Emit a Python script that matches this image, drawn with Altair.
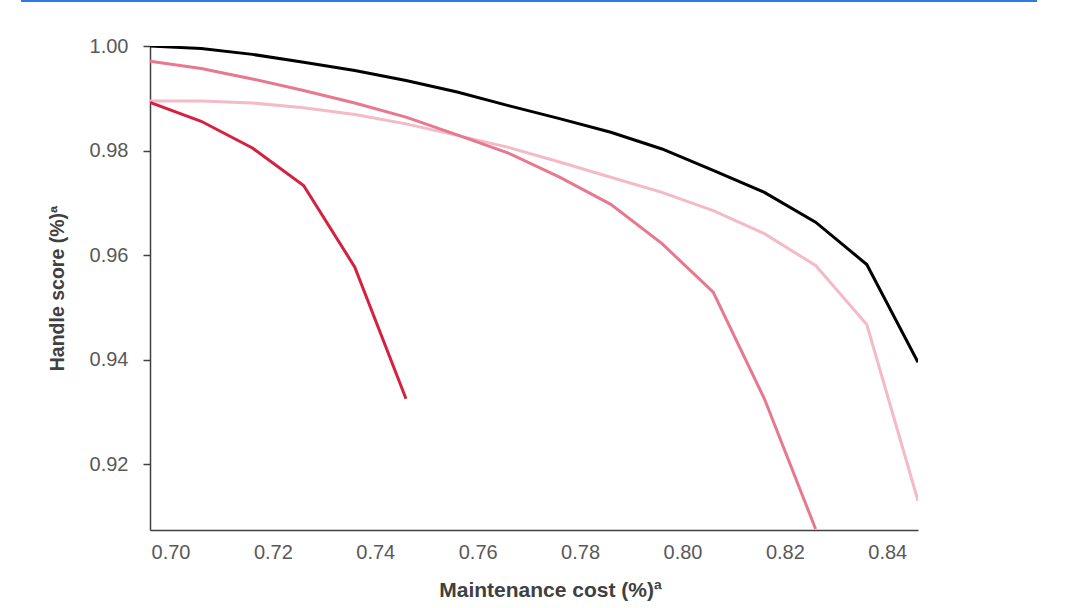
import altair as alt
import pandas as pd

# Maintenance cost (x) sample points
cost = [0.696, 0.706, 0.716, 0.726, 0.736, 0.746, 0.756, 0.766,
        0.776, 0.786, 0.796, 0.806, 0.816, 0.826, 0.836, 0.846]

# Handle score series
black = [1.0000, 0.9995, 0.9984, 0.9969, 0.9953, 0.9934, 0.9912, 0.9886,
         0.9861, 0.9835, 0.9803, 0.9762, 0.9720, 0.9663, 0.9582, 0.9395]
light = [0.9895, 0.9895, 0.9891, 0.9882, 0.9869, 0.9851, 0.9829, 0.9806,
         0.9778, 0.9749, 0.9720, 0.9685, 0.9641, 0.9580, 0.9467, 0.9130]
mid = [0.9971, 0.9957, 0.9937, 0.9915, 0.9891, 0.9864, 0.9830, 0.9795,
       0.9749, 0.9697, 0.9622, 0.9529, 0.9325, 0.9076]
red = [0.9892, 0.9856, 0.9805, 0.9733, 0.9577, 0.9325]

series_names = ["s1", "s2", "s3", "s4"]
series_colors = ["#000000", "#f3bac8", "#e7788f", "#d5213f"]

x_ticks = [0.70, 0.72, 0.74, 0.76, 0.78, 0.80, 0.82, 0.84]
y_ticks = [0.92, 0.94, 0.96, 0.98, 1.00]

rows = []
for name, vals in zip(series_names, [black, light, mid, red]):
    for c, v in zip(cost, vals):
        rows.append({"series": name, "cost": c, "score": v})
df = pd.DataFrame(rows)

FONT = "Liberation Sans"

lines = alt.Chart(df).mark_line(strokeWidth=3, clip=True).encode(
    x=alt.X("cost:Q",
            scale=alt.Scale(domain=[0.696, 0.846], nice=False, zero=False),
            axis=alt.Axis(values=x_ticks, format=".2f", ticks=False, grid=False,
                          labelPadding=12, titlePadding=17, titleFontSize=21,
                          titleX=400,
                          title="Maintenance cost (%)ª")),
    y=alt.Y("score:Q",
            scale=alt.Scale(domain=[0.9074, 1.0], nice=False, zero=False),
            axis=alt.Axis(values=y_ticks, format=".2f", ticks=True, tickSize=7,
                          grid=False, labelPadding=15, titlePadding=22,
                          titleFontSize=19.5,
                          title="Handle score (%)ª")),
    color=alt.Color("series:N",
                    scale=alt.Scale(domain=series_names, range=series_colors),
                    legend=None),
)

top_rule = alt.Chart(pd.DataFrame({"a": [0]})).mark_rule(
    color="#2e7be6", strokeWidth=2, clip=False
).encode(x=alt.value(-129), x2=alt.value(887), y=alt.value(-45))

chart = alt.layer(top_rule, lines).properties(
    width=768, height=484,
    autosize=alt.AutoSizeParams(type="none"),
    padding={"left": 150, "top": 46, "right": 163, "bottom": 78},
    background="white",
).configure_view(stroke=None).configure_axis(
    domainColor="#404040", domainWidth=1.5, tickColor="#404040", tickWidth=1.5,
    labelColor="#595959", labelFont=FONT, labelFontSize=20,
    titleColor="#404040", titleFont=FONT, titleFontWeight="bold",
)

chart.save("out.html", embed_options={"renderer": "svg", "actions": False})
